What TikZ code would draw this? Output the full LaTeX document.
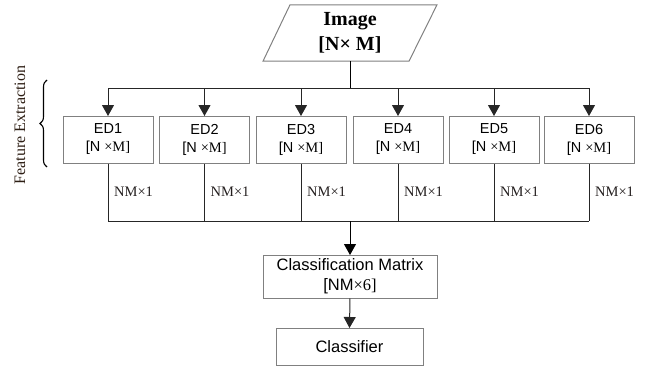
\documentclass[tikz,border=0pt]{standalone}
\usepackage{fontspec}
\setmainfont{Liberation Serif}
\setsansfont{Liberation Sans}
\usetikzlibrary{arrows.meta,decorations.pathreplacing}
\newcommand{\edtxt}[1]{ED#1\\{}[N {\rmfamily ×M]}}
\begin{document}
\begin{tikzpicture}[x=1pt,y=-1pt,
  box/.style={draw=black!50,line width=1pt,fill=white,align=center,inner sep=0pt},
  edbox/.style={box,minimum width=90pt,minimum height=47pt,font=\sffamily\fontsize{14.5}{18}\selectfont},
  line/.style={draw=black!85,line width=1pt},
  arr/.style={line,-{Triangle[length=11pt,width=12pt]},shorten >=-0.5pt},
  dimlbl/.style={anchor=west,inner sep=0pt,font=\fontsize{14.5}{17}\selectfont,text={rgb,255:red,35;green,30;blue,30}}]
\useasboundingbox (0,0) rectangle (656,369);
% Image
\node[minimum width=146pt,minimum height=56pt,inner sep=0pt,align=center,
  font=\bfseries\fontsize{20}{25}\selectfont] (img) at (350,33) {Image\\{}[N× M]};
\draw[draw=black!50,line width=1pt] ([xshift=-87pt]img.south) -- ([xshift=59pt]img.south)
  -- ([xshift=87pt]img.north) -- ([xshift=-60pt]img.north) -- cycle;
% ED boxes
\node[edbox] (ed1) at (108,139.5) {\edtxt{1}};
\node[edbox] (ed2) at (204.5,139.5) {\edtxt{2}};
\node[edbox] (ed3) at (301,139.5) {\edtxt{3}};
\node[edbox] (ed4) at (398,139.5) {\edtxt{4}};
\node[edbox] (ed5) at (494,139.5) {\edtxt{5}};
\node[edbox] (ed6) at (589,139.5) {\edtxt{6}};
% top bus
\coordinate (bus1) at (350,88);
\draw[line,draw=black] (img.south) -- (bus1);
\draw[line] (ed1.north |- bus1) -- (ed6.north |- bus1);
\foreach \i in {1,...,6}{\draw[arr] (ed\i.north |- bus1) -- (ed\i.north);}
% bottom bus
\coordinate (bus2) at (350,221);
\foreach \i in {1,...,6}{
  \draw[line] (ed\i.south) -- (ed\i.south |- bus2);
  \node[dimlbl] (lbl\i) at ([xshift=6pt]ed\i.south |- 0,192) {NM×1};
}
\draw[line] (ed1.south |- bus2) -- (ed6.south |- bus2);
% classification
\node[box,minimum width=174pt,minimum height=43pt,
  font=\sffamily\fontsize{16.5}{20}\selectfont] (cm) at (350,276.5)
  {Classification Matrix\\{}[NM{\rmfamily ×6]}};
\node[box,minimum width=147pt,minimum height=37pt,
  font=\sffamily\fontsize{16.5}{20}\selectfont] (cls) at (349.5,346.5) {Classifier};
\draw[arr,draw=black] (bus2) -- (cm.north);
\draw[arr] (cm.south) -- (cls.north);
% Feature extraction
\node[rotate=90,inner sep=0pt,font=\fontsize{16}{18}\selectfont,
  text={rgb,255:red,45;green,30;blue,20}] (fe) at (20,125) {Feature Extraction};
\coordinate (brb) at (47,167);
\coordinate (brt) at (47,80);
\draw[draw=black,line width=1.1pt,decorate,decoration={brace,amplitude=7pt}] (brb) -- (brt);
\end{tikzpicture}
\end{document}
